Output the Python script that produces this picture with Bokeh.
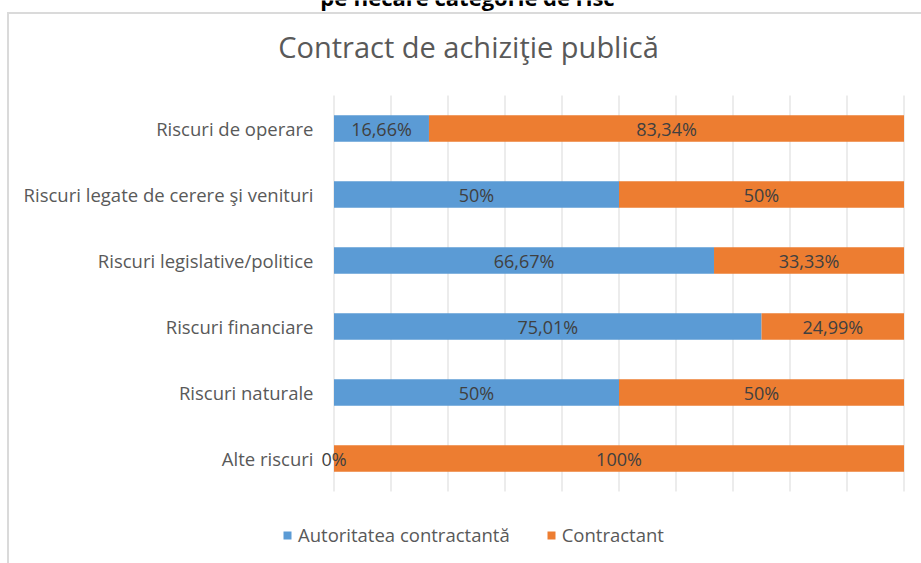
from bokeh.plotting import figure
from bokeh.models import (Range1d, Label, Legend, LegendItem, ColumnDataSource, LabelSet)
from bokeh.core.properties import value
from bokeh.embed import file_html
from bokeh.resources import INLINE

categories = ["Riscuri de operare", "Riscuri legate de cerere şi venituri",
              "Riscuri legislative/politice", "Riscuri financiare",
              "Riscuri naturale", "Alte riscuri"]
autoritatea = [16.66, 50, 66.67, 75.01, 50, 0]
contractant = [83.34, 50, 33.33, 24.99, 50, 100]
series_names = ["Autoritatea contractantă", "Contractant"]
x_ticks = [0, 10, 20, 30, 40, 50, 60, 70, 80, 90, 100]
title_text = "Contract de achiziţie publică"
header_text = "pe fiecare categorie de risc"

BLUE = "#5B9BD5"
ORANGE = "#ED7D31"
GRID = "#d9d9d9"
FONT = "Open Sans"


def fmt(v):
    return ("%g" % v).replace(".", ",") + "%"


# ---- layout (canvas pixels) ----
W, H = 921, 563
X0PX, PX = 333.5, 5.7          # pixel of 0 %, pixels per percent
Y0PX, ROW = 128.0, 66.0        # centre of first row, pixels per row
x_start = -X0PX / PX
x_end = (W - X0PX) / PX
y_top = -Y0PX / ROW
y_bottom = (H - Y0PX) / ROW
label_x = (313 - X0PX) / PX    # right edge of category labels

n = len(categories)
pos = list(range(n))

src = ColumnDataSource(dict(
    pos=pos,
    cat=categories,
    lx=[label_x] * n,
    a=autoritatea,
    c=contractant,
    a_mid=[v / 2 for v in autoritatea],
    c_mid=[a + c / 2 for a, c in zip(autoritatea, contractant)],
    a_lbl=[fmt(v) for v in autoritatea],
    c_lbl=[fmt(v) for v in contractant],
))
grid_src = ColumnDataSource(dict(x=x_ticks,
                                 y0=[-0.5] * len(x_ticks),
                                 y1=[n - 0.5] * len(x_ticks)))

border_css = ("linear-gradient(#dadada,#dadada) 7px 12px / 2px 100% no-repeat, "
              "linear-gradient(#dadada,#dadada) 7px 12px / 100% 2px no-repeat, #ffffff")

p = figure(width=W, height=H, output_backend="svg", toolbar_location=None,
           x_range=Range1d(x_start, x_end), y_range=Range1d(y_bottom, y_top),
           x_axis_location=None, y_axis_location=None,
           min_border=0, styles={"background": border_css})
p.title.text = ""
p.title.visible = False
p.outline_line_color = None
p.background_fill_alpha = 0
p.border_fill_alpha = 0
p.grid.visible = False

# vertical gridlines
p.segment(x0="x", y0="y0", x1="x", y1="y1", source=grid_src,
          line_color=GRID, line_width=1)

rs = p.hbar_stack(["a", "c"], y="pos", height=0.4, color=[BLUE, ORANGE],
                  line_color=None, source=src)

# category labels (axis labels)
p.add_layout(LabelSet(x="lx", y="pos", text="cat", source=src,
                      text_align="right", text_baseline="middle",
                      text_font=value(FONT), text_font_size="18.5px",
                      text_color="#595959"))

# data labels
for col, lcol in (("a_mid", "a_lbl"), ("c_mid", "c_lbl")):
    p.add_layout(LabelSet(x=col, y="pos", text=lcol, source=src,
                          text_align="center", text_baseline="middle",
                          text_font=value(FONT), text_font_size="18px",
                          text_color="#404040"))

# titles (screen units, measured from bottom-left of canvas)
p.add_layout(Label(x=468, y=H - 46, x_units="screen", y_units="screen",
                   text=title_text, text_align="center", text_baseline="alphabetic",
                   text_font=FONT, text_font_size="29px",
                   text_color="#595959"))
p.add_layout(Label(x=467, y=H + 4, x_units="screen", y_units="screen",
                   text=header_text, text_align="center", text_baseline="alphabetic",
                   text_font=FONT, text_font_size="22px", text_font_style="bold",
                   text_color="#000000"))

legend = Legend(items=[LegendItem(label=series_names[0], renderers=[rs[0]]),
                       LegendItem(label=series_names[1], renderers=[rs[1]])],
                orientation="horizontal", location=(282, 16),
                padding=0, margin=0, spacing=36, label_standoff=6,
                glyph_width=10, glyph_height=10,
                label_text_font=FONT, label_text_font_size="18.5px",
                label_text_color="#595959",
                border_line_color=None, background_fill_alpha=0)
p.add_layout(legend, "center")

open("out.html", "w").write(file_html(p, INLINE))
